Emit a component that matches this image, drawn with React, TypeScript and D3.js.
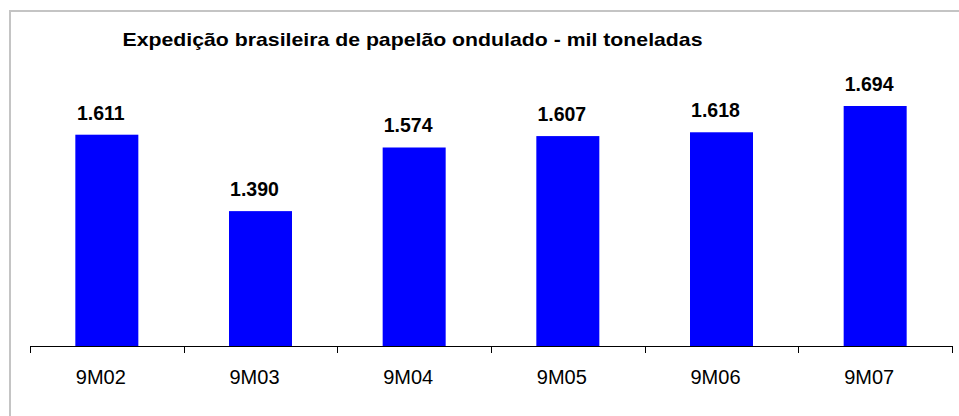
import React from "react";
import * as d3 from "d3";

const categories = ["9M02", "9M03", "9M04", "9M05", "9M06", "9M07"];
const values = [1611, 1390, 1574, 1607, 1618, 1694];
const valueLabels = ["1.611", "1.390", "1.574", "1.607", "1.618", "1.694"];
const title = "Expedição brasileira de papelão ondulado - mil toneladas";

const W = 959;
const H = 416;
const FONT = "'Liberation Sans', Arial, Helvetica, sans-serif";

export default function App() {
  const axisY = 346;
  const x = d3.scaleBand<string>().domain(categories).range([30, 952]).padding(0);
  const y = d3.scaleLinear().domain([1000, 1800]).range([axisY, axisY - (800 / 694) * 240]);
  const bw = x.bandwidth() * 0.41;
  const tickXs = categories.map((c) => x(c) as number).concat([952]);

  return (
    <svg
      width={W}
      height={H}
      style={{ position: "absolute", left: 0, top: 0, background: "#fff" }}
      fontFamily={FONT}
    >
      <rect x={0} y={0} width={W} height={H} fill="#fff" />
      <rect x={10} y={11} width={980} height={440} fill="none" stroke="#c4c4c4" strokeWidth={2} />
      <text x={122.5} y={45.5} fontSize={19} fontWeight="bold" fill="#000" textLength={580} lengthAdjust="spacingAndGlyphs">
        {title}
      </text>
      {categories.map((c, i) => {
        const cx = (x(c) as number) + x.bandwidth() / 2;
        const top = y(values[i]);
        return (
          <g key={c}>
            <rect x={cx - bw / 2} y={top} width={bw} height={axisY - top} fill="#0000ff" />
            <text x={cx - 6} y={top - 15} fontSize={19.5} fontWeight="bold" textAnchor="middle" fill="#000">
              {valueLabels[i]}
            </text>
            <text x={cx - 6} y={384} fontSize={20} textAnchor="middle" fill="#000">
              {c}
            </text>
          </g>
        );
      })}
      <line x1={30} x2={952} y1={axisY + 0.5} y2={axisY + 0.5} stroke="#000" strokeWidth={1} />
      {tickXs.map((t, i) => (
        <line key={i} x1={Math.round(t) + 0.5} x2={Math.round(t) + 0.5} y1={axisY} y2={axisY + 7} stroke="#000" strokeWidth={1} />
      ))}
    </svg>
  );
}
